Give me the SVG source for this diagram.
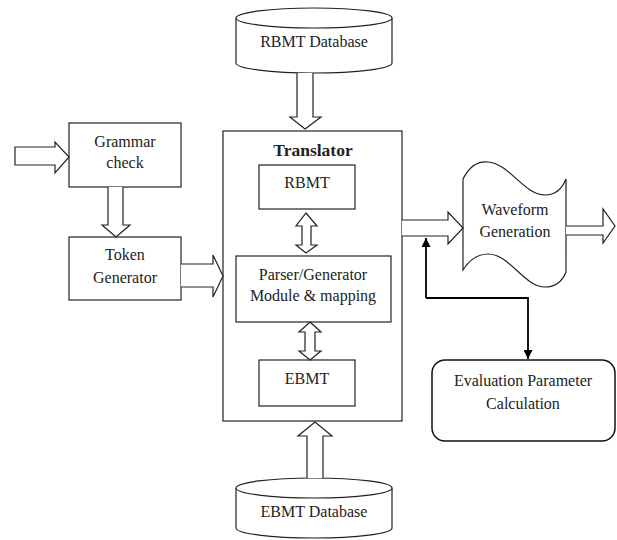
<svg xmlns="http://www.w3.org/2000/svg" width="617" height="540" viewBox="0 0 617 540">
<style>
.s{fill:#fff;stroke:#222;stroke-width:1.2}
.t{font-family:"Liberation Serif","Times New Roman",serif;font-size:16px;fill:#222;text-anchor:middle}
.b{font-weight:bold;font-size:17.5px}
.fb{fill:none;stroke:#000;stroke-width:1.8}
</style>
<defs>
<marker id="ah" viewBox="0 0 10 10" refX="10" refY="5" markerWidth="5" markerHeight="5" orient="auto" markerUnits="strokeWidth">
<path d="M0,0 L10,5 L0,10 Z" fill="#000"/>
</marker>
</defs>
<rect width="617" height="540" fill="#fff"/>

<g id="rbmt-db">
<path class="s" d="M236,18 L236,63 A78,10 0 0 0 392,63 L392,18"/>
<ellipse class="s" cx="314" cy="18" rx="78" ry="10"/>
<text class="t" x="314" y="47">RBMT Database</text>
</g>

<g id="translator">
<rect class="s" x="223" y="131" width="179" height="290"/>
<text class="t b" x="313" y="156">Translator</text>
</g>

<g id="rbmt">
<rect class="s" x="259" y="165" width="96" height="44"/>
<text class="t" x="307" y="188">RBMT</text>
</g>

<g id="parser">
<rect class="s" x="236" y="256" width="155" height="66"/>
<text class="t" x="313" y="280">Parser/Generator</text>
<text class="t" x="313" y="301">Module &amp; mapping</text>
</g>

<g id="ebmt">
<rect class="s" x="259" y="360" width="96" height="46"/>
<text class="t" x="307" y="384">EBMT</text>
</g>

<g id="ebmt-db">
<path class="s" d="M236,488 L236,528 A78,10 0 0 0 392,528 L392,488"/>
<ellipse class="s" cx="314" cy="488" rx="78" ry="10"/>
<text class="t" x="314" y="517">EBMT Database</text>
</g>

<g id="grammar">
<rect class="s" x="69" y="123" width="112" height="64"/>
<text class="t" x="125" y="147">Grammar</text>
<text class="t" x="125" y="168">check</text>
</g>

<g id="token">
<rect class="s" x="69" y="237" width="112" height="63"/>
<text class="t" x="125" y="260">Token</text>
<text class="t" x="125" y="283">Generator</text>
</g>

<g id="waveform">
<path class="s" d="M463,179 C470,165 478,161 488,162 C510,164 524,195 545,195 C556,195 562,189 566,179 L566,272 C562,282 556,287 545,287 C524,287 510,254 488,254 C478,254 470,259 463,270 Z"/>
<text class="t" x="515" y="215">Waveform</text>
<text class="t" x="515" y="237">Generation</text>
</g>

<g id="evaluation">
<rect x="432" y="360" width="183" height="81" rx="13" fill="#fff" stroke="#111" stroke-width="1.5"/>
<text class="t" x="523" y="386">Evaluation Parameter</text>
<text class="t" x="523" y="409">Calculation</text>
</g>

<g id="connectors">
<path class="s" d="M297,73 L297,117 L290,117 L305,129 L321,117 L313,117 L313,73"/>
<path class="s" d="M15,147 L55,147 L55,142 L69,157 L55,173 L55,165 L15,165 Z"/>
<path class="s" d="M108,187 L108,225 L102,225 L116,237 L130,225 L123,225 L123,187"/>
<path class="s" d="M181,264 L213,264 L213,255 L223,276 L213,297 L213,287 L181,287"/>
<path class="s" d="M306,213 L317,226 L311,226 L311,245 L317,245 L306,253 L296,245 L302,245 L302,226 L296,226 Z"/>
<path class="s" d="M310,322 L321,332 L315,332 L315,351 L321,351 L310,360 L299,351 L305,351 L305,332 L299,332 Z"/>
<path class="s" d="M307,478 L307,436 L298,436 L315,422 L332,436 L323,436 L323,478"/>
<path class="s" d="M402,220 L448,220 L448,212 L463,228 L448,244 L448,236 L402,236"/>
<path class="s" d="M566,226 L603,226 L603,209 L615,226 L603,243 L603,235 L566,235"/>
<path class="fb" d="M426,298 L426,238" marker-end="url(#ah)"/>
<path class="fb" d="M426,298 L528,298 L528,359" marker-end="url(#ah)"/>
</g>
</svg>
